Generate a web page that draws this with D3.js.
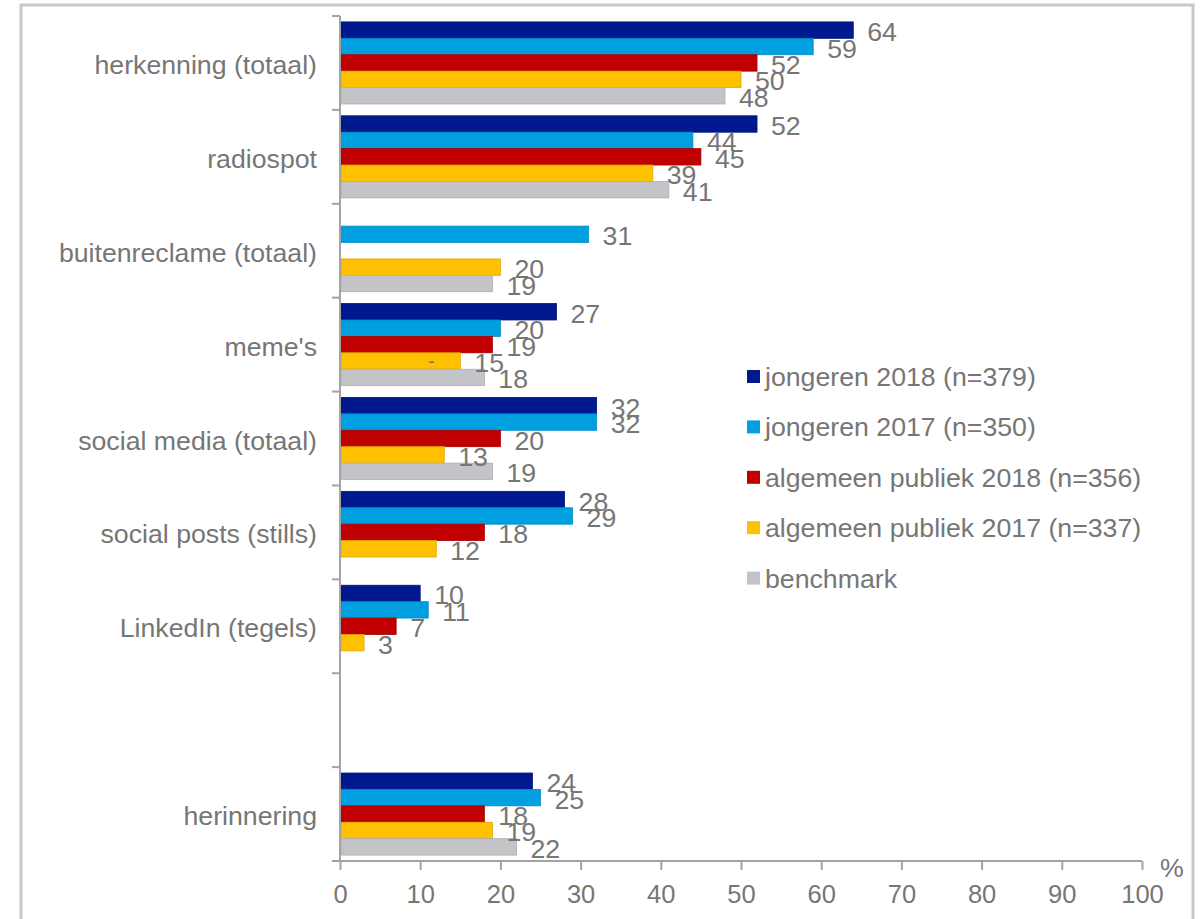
<!DOCTYPE html>
<html>
<head>
<meta charset="utf-8">
<script src="https://cdn.jsdelivr.net/npm/d3@7"></script>
<style>
  html, body { margin: 0; padding: 0; background: #fff; }
  svg { display: block; font-family: "Liberation Sans", Arial, sans-serif; }
</style>
</head>
<body>
<svg id="chart" width="1204" height="919"></svg>
<script>
// Categories (top to bottom); the empty string is a spacer row
const categories = [
  "herkenning (totaal)",
  "radiospot",
  "buitenreclame (totaal)",
  "meme's",
  "social media (totaal)",
  "social posts (stills)",
  "LinkedIn (tegels)",
  "",
  "herinnering"
];

const seriesNames = [
  "jongeren 2018 (n=379)",
  "jongeren 2017 (n=350)",
  "algemeen publiek 2018 (n=356)",
  "algemeen publiek 2017 (n=337)",
  "benchmark"
];

const seriesColors = ["#00198F", "#009FDF", "#C00000", "#FFC000", "#C3C4C8"];

// Percentages per series, one entry per category (null = no bar)
const jongeren2018   = [64, 52, null, 27, 32, 28, 10, null, 24];
const jongeren2017   = [59, 44, 31,   20, 32, 29, 11, null, 25];
const algemeen2018   = [52, 45, null, 19, 20, 18, 7,  null, 18];
const algemeen2017   = [50, 39, 20,   15, 13, 12, 3,  null, 19];
const benchmark      = [48, 41, 19,   18, 19, null, null, null, 22];

const seriesValues = [jongeren2018, jongeren2017, algemeen2018, algemeen2017, benchmark];

const xTicks = [0, 10, 20, 30, 40, 50, 60, 70, 80, 90, 100];

// Small stray dash shown inside one bar
const notes = [{ category: "meme's", series: 3, value: 11.4, text: "-" }];

const svg = d3.select("#chart");
const textColor = "#767676";
const axisColor = "#a3a3a3";
const fontSize = 26.7;

// Outer frame
svg.append("rect")
  .attr("x", 21).attr("y", 5)
  .attr("width", 1172).attr("height", 930)
  .attr("fill", "none")
  .attr("stroke", "#c8c8c8")
  .attr("stroke-width", 3);

const x = d3.scaleLinear().domain([0, 100]).range([340, 1142]);
const y = d3.scaleBand().domain(d3.range(categories.length)).range([16, 861]).padding(0);
const yInner = d3.scaleBand().domain(d3.range(seriesNames.length))
  .range([0, y.bandwidth()]).paddingInner(0).paddingOuter(0.36);

// Bars
const rows = [];
categories.forEach((c, ci) => {
  seriesValues.forEach((vals, si) => {
    if (vals[ci] != null) rows.push({ ci, si, v: vals[ci] });
  });
});

svg.append("g").selectAll("rect")
  .data(rows)
  .join("rect")
  .attr("x", x(0) + 1)
  .attr("y", d => y(d.ci) + yInner(d.si))
  .attr("width", d => x(d.v) - x(0) - 1)
  .attr("height", yInner.bandwidth())
  .attr("fill", d => seriesColors[d.si])
  .attr("stroke", d => d3.color(seriesColors[d.si]).darker(0.35))
  .attr("stroke-width", 0.8);

// Value labels
svg.append("g").selectAll("text")
  .data(rows)
  .join("text")
  .attr("x", d => x(d.v) + 14)
  .attr("y", d => y(d.ci) + yInner(d.si) + yInner.bandwidth() / 2 + 2)
  .attr("dominant-baseline", "central")
  .attr("font-size", fontSize)
  .attr("fill", textColor)
  .text(d => d.v);

// Stray dash
svg.append("g").selectAll("text")
  .data(notes)
  .join("text")
  .attr("x", d => x(d.value))
  .attr("y", d => y(categories.indexOf(d.category)) + yInner(d.series) + yInner.bandwidth() / 2)
  .attr("dominant-baseline", "central")
  .attr("text-anchor", "middle")
  .attr("font-size", 20)
  .attr("fill", textColor)
  .text(d => d.text);

// Category axis (vertical) with ticks on band boundaries
const yAxis = svg.append("g");
yAxis.append("line")
  .attr("x1", x(0)).attr("x2", x(0))
  .attr("y1", y.range()[0]).attr("y2", y.range()[1])
  .attr("stroke", axisColor).attr("stroke-width", 2);
const boundaries = categories.map((c, i) => y(i)).concat([y.range()[1]]);
yAxis.selectAll("line.tick")
  .data(boundaries)
  .join("line")
  .attr("class", "tick")
  .attr("x1", x(0) - 8).attr("x2", x(0))
  .attr("y1", d => d).attr("y2", d => d)
  .attr("stroke", axisColor).attr("stroke-width", 2);

// Category labels
svg.append("g").selectAll("text")
  .data(categories)
  .join("text")
  .attr("x", 317)
  .attr("y", (d, i) => y(i) + y.bandwidth() / 2 + 2)
  .attr("text-anchor", "end")
  .attr("dominant-baseline", "central")
  .attr("font-size", fontSize)
  .attr("fill", textColor)
  .text(d => d);

// Value axis
const xAxis = svg.append("g")
  .attr("transform", `translate(0,${y.range()[1]})`)
  .call(d3.axisBottom(x).tickValues(xTicks).tickSize(9).tickPadding(15));
xAxis.select(".domain").attr("stroke", axisColor).attr("stroke-width", 2)
  .attr("d", `M${x(0)},0H${x(100)}`);
xAxis.selectAll(".tick line").attr("stroke", axisColor).attr("stroke-width", 2);
xAxis.selectAll(".tick text")
  .attr("font-size", 25.5)
  .attr("font-family", "Liberation Sans, Arial, sans-serif")
  .attr("fill", textColor);

svg.append("text")
  .attr("x", 1160).attr("y", 877)
  .attr("font-size", fontSize)
  .attr("fill", textColor)
  .text("%");

// Legend
const legend = svg.append("g").attr("transform", "translate(747,370)");
const items = legend.selectAll("g")
  .data(seriesNames)
  .join("g")
  .attr("transform", (d, i) => `translate(0,${i * 50.4})`);
items.append("rect")
  .attr("width", 13).attr("height", 13)
  .attr("fill", (d, i) => seriesColors[i]);
items.append("text")
  .attr("x", 18).attr("y", 7)
  .attr("dominant-baseline", "central")
  .attr("font-size", fontSize)
  .attr("fill", textColor)
  .text(d => d);
</script>
</body>
</html>
